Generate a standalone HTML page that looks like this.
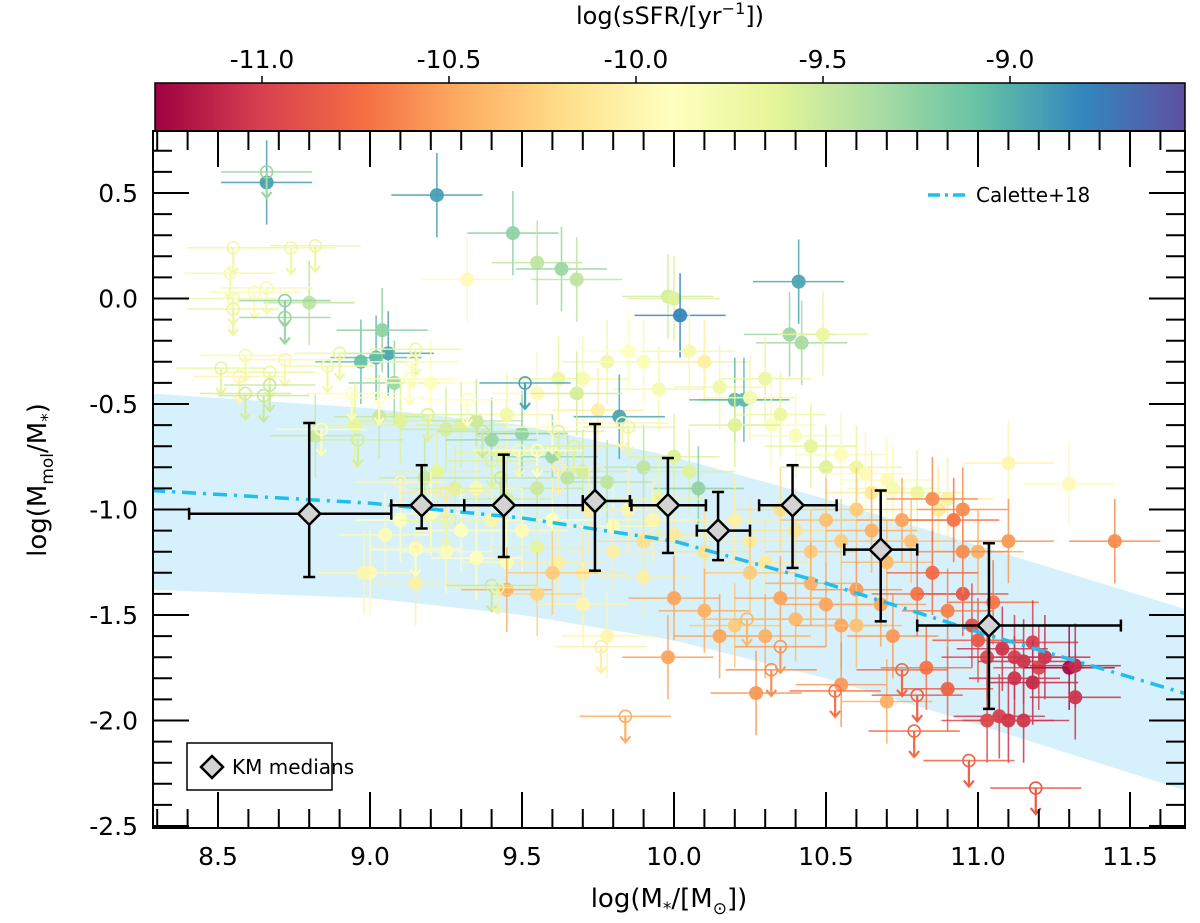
<!DOCTYPE html>
<html><head><meta charset="utf-8"><style>
html,body{margin:0;padding:0;background:#fff;}
svg{display:block;font-family:"DejaVu Sans","Liberation Sans",sans-serif;}
</style></head><body>
<svg id="chart" width="1200" height="923" viewBox="0 0 1200 923">
<defs>
<linearGradient id="cmap" x1="0" x2="1" y1="0" y2="0">
<stop offset="0" stop-color="#9e0142"/><stop offset="0.1" stop-color="#d53e4f"/><stop offset="0.2" stop-color="#f46d43"/><stop offset="0.3" stop-color="#fdae61"/><stop offset="0.4" stop-color="#fee08b"/><stop offset="0.5" stop-color="#ffffbf"/><stop offset="0.6" stop-color="#e6f598"/><stop offset="0.7" stop-color="#abdda4"/><stop offset="0.8" stop-color="#66c2a5"/><stop offset="0.9" stop-color="#3288bd"/><stop offset="1" stop-color="#5e4fa2"/>
</linearGradient>
<clipPath id="clip"><rect x="153" y="131" width="1032" height="697"/></clipPath>
</defs>
<g id="cbar"></g>
<g id="plot" clip-path="url(#clip)"></g>
<g id="axes"></g>
<text x="670" y="24" font-size="24" text-anchor="middle">log(sSFR/[yr<tspan dy="-10" font-size="16">−1</tspan><tspan dy="10">])</tspan></text>
<text x="669" y="907" font-size="26" text-anchor="middle">log(M<tspan dy="7" font-size="17">*</tspan><tspan dy="-7">/[M</tspan><tspan dy="7" font-size="17">⊙</tspan><tspan dy="-7">])</tspan></text>
<text transform="translate(46,480) rotate(-90)" font-size="26" text-anchor="middle">log(M<tspan dy="7" font-size="17">mol</tspan><tspan dy="-7">/M</tspan><tspan dy="7" font-size="17">*</tspan><tspan dy="-7">)</tspan></text>
<g>
<line x1="928" y1="195" x2="966" y2="195" stroke="#1ebfef" stroke-width="3.5" stroke-dasharray="12,5,3,5"/>
<text x="976" y="202" font-size="20">Calette+18</text>
</g>
<g>
<rect x="187" y="743" width="145" height="47" fill="#fff" stroke="#000" stroke-width="1.5"/>
<path d="M212,756 L223,767 L212,778 L201,767 Z" fill="#d3d3d3" stroke="#000" stroke-width="2.5"/>
<text x="232" y="774" font-size="20">KM medians</text>
</g>
</svg>
<script>
// ---- data ----
const xTicks = [8.5, 9.0, 9.5, 10.0, 10.5, 11.0, 11.5];
const yTicks = [0.5, 0.0, -0.5, -1.0, -1.5, -2.0, -2.5];
const cTicks = [-11.0, -10.5, -10.0, -9.5, -9.0];
const bandX = [8.28, 9.0, 9.5, 10.0, 10.5, 11.0, 11.7];
const bandUpper = [-0.45, -0.52, -0.60, -0.75, -0.95, -1.17, -1.48];
const bandLower = [-1.38, -1.42, -1.50, -1.62, -1.80, -2.02, -2.34];
const caletteX = [8.28, 9.0, 9.5, 10.0, 10.5, 11.0, 11.7];
const caletteY = [-0.91, -0.97, -1.04, -1.15, -1.35, -1.58, -1.88];
// upper limits: [logM, logRatio, sSFR]
const limits = [
[8.66,0.60,-9.3],[8.55,0.24,-9.75],[8.74,0.24,-9.75],[8.82,0.25,-9.7],[8.54,0.12,-9.8],[8.55,0.00,-9.75],
[8.66,0.05,-9.8],[8.62,0.03,-9.95],[8.55,-0.05,-9.7],[8.59,-0.27,-9.8],[8.72,-0.01,-9.25],[8.72,-0.09,-9.3],
[8.72,-0.29,-10.0],[8.51,-0.33,-9.65],[8.57,-0.37,-10.0],[8.67,-0.35,-9.7],[8.67,-0.41,-9.5],[8.59,-0.45,-9.55],
[8.65,-0.46,-9.5],[8.86,-0.32,-9.75],[8.90,-0.26,-9.7],[8.94,-0.45,-9.85],[8.84,-0.62,-9.9],[8.96,-0.67,-9.55],
[9.15,-0.24,-9.7],[9.14,-0.30,-9.85],[9.13,-0.38,-9.85],[9.03,-0.47,-9.9],[9.19,-0.55,-9.6],[9.32,-0.48,-9.9],
[9.43,-0.73,-9.65],[9.40,-0.77,-9.6],[9.60,-0.61,-9.9],[9.62,-0.63,-9.6],[9.67,-0.70,-9.6],[9.83,-0.59,-10.0],
[9.85,-0.61,-9.7],[9.10,-0.87,-10.0],[9.37,-0.63,-9.5],[9.49,-0.72,-9.8],[9.25,-0.92,-10.1],[9.40,-1.36,-9.5],
[9.42,-1.37,-9.7],[9.15,-1.19,-9.9],[9.43,-0.85,-9.5],[9.55,-0.72,-9.9],[9.62,-0.80,-10.05],[9.25,-1.05,-9.7],
[9.76,-1.65,-10.05],[9.84,-1.98,-10.45],[9.51,-0.40,-8.95],[10.24,-1.52,-10.4],[10.32,-1.76,-10.6],[10.35,-1.65,-10.55],
[10.53,-1.86,-10.7],[10.75,-1.76,-10.75],[10.80,-1.88,-10.8],[10.79,-2.05,-10.75],[10.97,-2.19,-10.8],[11.19,-2.32,-10.85]
];
// detections: [logM, logRatio, sSFR]
const detections = [
[8.66,0.55,-8.92],[9.22,0.49,-8.92],[9.47,0.31,-9.25],[9.55,0.17,-9.45],[9.63,0.14,-9.3],[9.68,0.09,-9.45],
[9.32,0.09,-9.95],[9.98,0.01,-9.55],[10.0,0.0,-9.6],[10.02,-0.08,-8.8],[10.41,0.08,-8.95],[10.38,-0.17,-9.3],
[10.42,-0.21,-9.35],[10.49,-0.17,-9.7],[8.80,-0.02,-9.45],[8.97,-0.30,-9.1],[9.02,-0.28,-9.05],[9.06,-0.26,-8.95],
[9.04,-0.15,-9.25],[9.08,-0.40,-9.3],[9.03,-0.56,-9.5],[9.10,-0.58,-9.6],
[9.20,-0.40,-9.9],[9.30,-0.60,-9.6],[9.35,-0.58,-9.5],[9.45,-0.55,-9.75],[9.50,-0.64,-9.25],[9.55,-0.45,-9.95],
[9.62,-0.38,-9.7],[9.70,-0.38,-9.8],[9.78,-0.30,-9.75],[9.85,-0.25,-9.9],[9.90,-0.30,-9.85],[9.95,-0.43,-9.8],
[9.75,-0.53,-10.05],[9.82,-0.56,-8.95],[9.68,-0.45,-9.55],[10.05,-0.25,-9.8],[10.10,-0.30,-10.05],[10.15,-0.42,-9.75],
[10.20,-0.48,-9.05],[10.23,-0.48,-9.05],[10.25,-0.47,-9.8],[10.30,-0.38,-9.7],[10.32,-0.60,-9.85],[10.35,-0.55,-9.7],
[10.20,-0.60,-9.6],[10.40,-0.65,-9.85],[10.45,-0.70,-9.65],[10.50,-0.80,-9.6],[10.55,-0.74,-9.85],[10.60,-0.80,-9.7],
[10.63,-0.83,-9.95],[10.70,-0.86,-9.95],[10.72,-0.90,-9.8],[10.80,-0.92,-9.7],[10.65,-0.92,-10.1],[10.87,-1.00,-10.1],
[10.90,-0.95,-10.05],[11.10,-0.78,-10.0],[11.30,-0.88,-9.95],[9.60,-0.75,-9.3],[9.65,-0.85,-9.45],[9.70,-0.82,-9.55],
[9.78,-0.87,-9.45],[9.55,-0.90,-9.5],[9.45,-0.95,-9.55],[9.35,-0.90,-9.8],[9.28,-0.90,-9.6],[9.22,-0.82,-9.65],
[9.18,-0.85,-9.5],[9.90,-0.80,-9.45],[10.00,-0.75,-9.6],[10.05,-0.82,-9.6],[10.08,-0.90,-9.25],[9.95,-0.95,-9.7],
[9.93,-1.05,-10.0],[9.85,-1.00,-10.0],[9.80,-1.08,-9.85],[9.72,-1.00,-10.05],[9.60,-1.05,-9.9],[9.50,-1.10,-9.95],
[9.40,-1.05,-10.0],[9.30,-1.10,-9.9],[9.20,-1.02,-9.9],[9.10,-1.05,-9.9],[9.05,-1.12,-9.95],[9.15,-1.18,-10.0],
[9.25,-1.20,-9.95],[9.35,-1.23,-9.9],[9.45,-1.25,-9.85],[9.55,-1.18,-9.65],[9.62,-1.25,-10.05],[9.70,-1.30,-10.1],
[9.80,-1.20,-10.05],[9.90,-1.15,-10.2],[10.00,-1.12,-10.1],[10.10,-1.20,-10.15],[10.20,-1.05,-10.05],[10.25,-1.15,-10.1],
[10.30,-1.25,-10.1],[10.35,-1.00,-10.2],[10.40,-1.10,-10.15],[10.45,-1.20,-10.3],[10.50,-1.05,-10.35],[10.55,-1.15,-10.3],
[10.60,-1.00,-10.3],[10.65,-1.10,-10.45],[10.70,-1.25,-10.4],[10.75,-1.05,-10.5],[10.78,-1.15,-10.35],[10.85,-0.95,-10.6],
[10.95,-1.00,-10.6],[11.00,-1.20,-10.45],[11.10,-1.15,-10.55],[11.45,-1.15,-10.6],[9.00,-1.30,-9.95],[9.15,-1.35,-10.05],
[9.45,-1.38,-10.45],[9.55,-1.40,-10.25],[9.70,-1.45,-10.0],[9.78,-1.60,-10.0],[9.60,-1.30,-10.3],[9.90,-1.32,-10.05],
[10.00,-1.42,-10.5],[10.10,-1.48,-10.45],[10.20,-1.55,-10.3],[10.15,-1.60,-10.5],[10.25,-1.30,-10.3],[10.30,-1.60,-10.45],
[10.35,-1.42,-10.5],[10.40,-1.52,-10.4],[10.45,-1.35,-10.45],[10.50,-1.45,-10.5],[10.55,-1.55,-10.5],[10.60,-1.38,-10.55],
[10.60,-1.55,-10.35],[10.68,-1.45,-10.5],[10.72,-1.60,-10.55],[10.80,-1.40,-10.7],[10.85,-1.30,-10.75],[9.98,-1.70,-10.5],
[10.27,-1.87,-10.55],[10.55,-1.83,-10.55],[10.70,-1.91,-10.45],[10.83,-1.75,-10.7],[10.90,-1.85,-10.8],[10.95,-1.40,-10.85],
[10.98,-1.55,-10.9],[11.00,-1.62,-10.85],[11.03,-1.70,-10.95],[11.05,-1.44,-10.7],[11.08,-1.66,-11.05],[11.12,-1.70,-11.0],
[11.15,-1.72,-11.05],[11.18,-1.63,-11.0],[11.20,-1.75,-10.95],[11.22,-1.70,-11.05],[11.12,-1.80,-11.05],[11.18,-1.82,-11.1],
[11.30,-1.75,-11.25],[11.32,-1.74,-11.1],[11.32,-1.89,-11.05],[11.07,-1.98,-11.0],[11.10,-2.00,-11.05],[11.15,-2.00,-11.05],
[11.03,-2.00,-10.95],[10.90,-1.48,-10.65],[10.95,-1.20,-10.6],[10.92,-1.05,-10.7],[8.82,-0.65,-9.5],[8.95,-0.60,-9.65],
[8.98,-1.30,-10.0],[9.25,-0.62,-9.55],[9.40,-0.67,-9.3]
];
// KM medians
const medX = [8.80, 9.17, 9.44, 9.74, 9.98, 10.145, 10.39, 10.68, 11.036];
const medY = [-1.02, -0.98, -0.98, -0.96, -0.98, -1.10, -0.98, -1.19, -1.55];
const medXlo = [8.405, 9.07, 9.31, 9.70, 9.86, 10.075, 10.28, 10.56, 10.80];
const medXhi = [9.07, 9.31, 9.70, 9.855, 10.105, 10.25, 10.535, 10.80, 11.47];
const medYhi = [-0.59, -0.79, -0.74, -0.595, -0.756, -0.917, -0.79, -0.91, -1.16];
const medYlo = [-1.32, -1.09, -1.225, -1.29, -1.206, -1.24, -1.277, -1.53, -1.945];

// ---- scales ----
const X = v => 218 + (v - 8.5) * 304;
const Y = v => 193 - (v - 0.5) * 211;
const C = v => 262 + (v + 11.0) * 374;
const NS = 'http://www.w3.org/2000/svg';
const stops = ['#9e0142','#d53e4f','#f46d43','#fdae61','#fee08b','#ffffbf','#e6f598','#abdda4','#66c2a5','#3288bd','#5e4fa2'];
function hex(h){return [1,3,5].map(i=>parseInt(h.substr(i,2),16));}
function cmap(s){
  let t = (C(s) - 155) / (1185 - 155);
  t = Math.max(0, Math.min(1, t)) * 10;
  const i = Math.min(9, Math.floor(t)), f = t - i;
  const a = hex(stops[i]), b = hex(stops[i+1]);
  return 'rgb(' + a.map((v,k)=>Math.round(v + (b[k]-v)*f)).join(',') + ')';
}
function el(tag, attrs, parent){
  const e = document.createElementNS(NS, tag);
  for (const k in attrs) e.setAttribute(k, attrs[k]);
  parent.appendChild(e);
  return e;
}
const plot = document.getElementById('plot');
const axes = document.getElementById('axes');
const cbar = document.getElementById('cbar');

let d = '';
bandX.forEach((x,i)=>{ d += (i? 'L':'M') + X(x) + ',' + Y(bandUpper[i]); });
for (let i = bandX.length-1; i >= 0; i--) d += 'L' + X(bandX[i]) + ',' + Y(bandLower[i]);
const band = el('path', {d: d + 'Z', fill: '#d6f1fb'}, plot);



detections.forEach(p=>{
  const g = el('g', {}, plot);
  
  
  const c = cmap(p[2]);
  el('line', {x1:X(p[0]-0.15), x2:X(p[0]+0.15), y1:Y(p[1]), y2:Y(p[1]), stroke:c, 'stroke-width':1.6, opacity:0.85}, g);
  el('line', {x1:X(p[0]), x2:X(p[0]), y1:Y(p[1]+0.2), y2:Y(p[1]-0.2), stroke:c, 'stroke-width':1.6, opacity:0.85}, g);
  el('circle', {cx:X(p[0]), cy:Y(p[1]), r:7, fill:c, opacity:0.95}, g);
});
limits.forEach(p=>{
  const g = el('g', {}, plot);
  
  
  const c = cmap(p[2]);
  const x = X(p[0]), y = Y(p[1]);
  el('line', {x1:X(p[0]-0.15), x2:X(p[0]+0.15), y1:y, y2:y, stroke:c, 'stroke-width':1.6, opacity:0.85}, g);
  el('circle', {cx:x, cy:y, r:6, fill:'none', stroke:c, 'stroke-width':1.6}, g);
  el('line', {x1:x, x2:x, y1:y, y2:y+26, stroke:c, 'stroke-width':2.2}, g);
  el('path', {d:'M'+(x-5)+','+(y+20)+'L'+x+','+(y+26)+'L'+(x+5)+','+(y+20), fill:'none', stroke:c, 'stroke-width':2.2}, g);
});

let ld = '';
caletteX.forEach((x,i)=>{ ld += (i? 'L':'M') + X(x) + ',' + Y(caletteY[i]); });
const cl = el('path', {d:ld, fill:'none', stroke:'#1ebfef', 'stroke-width':3.5, 'stroke-dasharray':'14,7,3,7'}, plot);



medX.forEach((x,i)=>{
  const g = el('g', {}, plot);
  
  
  const cx = X(x), cy = Y(medY[i]);
  const st = {stroke:'#000', 'stroke-width':2.5};
  el('line', Object.assign({x1:X(medXlo[i]), x2:X(medXhi[i]), y1:cy, y2:cy}, st), g);
  el('line', Object.assign({x1:cx, x2:cx, y1:Y(medYhi[i]), y2:Y(medYlo[i])}, st), g);
  el('line', Object.assign({x1:X(medXlo[i]), x2:X(medXlo[i]), y1:cy-6, y2:cy+6}, st), g);
  el('line', Object.assign({x1:X(medXhi[i]), x2:X(medXhi[i]), y1:cy-6, y2:cy+6}, st), g);
  el('line', Object.assign({x1:cx-6, x2:cx+6, y1:Y(medYhi[i]), y2:Y(medYhi[i])}, st), g);
  el('line', Object.assign({x1:cx-6, x2:cx+6, y1:Y(medYlo[i]), y2:Y(medYlo[i])}, st), g);
  el('path', {d:'M'+cx+','+(cy-11)+'L'+(cx+11)+','+cy+'L'+cx+','+(cy+11)+'L'+(cx-11)+','+cy+'Z', fill:'#d3d3d3', stroke:'#000', 'stroke-width':2.5}, g);
});

const frame = el('rect', {x:153, y:131, width:1032, height:697, fill:'none', stroke:'#000', 'stroke-width':2}, axes);


for (let k = 83; k <= 117; k++) {
  const v = k / 10, x = X(v);
  if (x < 154 || x > 1184) continue;
  const major = k % 5 === 0;
  const L = major ? 36 : 19;
  el('line', {x1:x, x2:x, y1:828, y2:828-L, stroke:'#000', 'stroke-width':2}, axes);
  el('line', {x1:x, x2:x, y1:131, y2:131+L, stroke:'#000', 'stroke-width':2}, axes);
}
for (let k = -25; k <= 7; k++) {
  const v = k / 10, y = Y(v);
  if (y < 132 || y > 827) continue;
  const major = k % 5 === 0;
  const L = major ? 36 : 19;
  el('line', {x1:153, x2:153+L, y1:y, y2:y, stroke:'#000', 'stroke-width':2}, axes);
  el('line', {x1:1185, x2:1185-L, y1:y, y2:y, stroke:'#000', 'stroke-width':2}, axes);
}
xTicks.forEach(v=>{
  const t = el('text', {x:X(v), y:865, 'font-size':25, 'text-anchor':'middle'}, axes);
  
  
  t.textContent = v.toFixed(1);
});
yTicks.forEach(v=>{
  const t = el('text', {x:138, y:Y(v)+9, 'font-size':25, 'text-anchor':'end'}, axes);
  
  
  t.textContent = v.toFixed(1);
});

const cr = el('rect', {x:155, y:83, width:1030, height:48, fill:'url(#cmap)', stroke:'#000', 'stroke-width':1.5}, cbar);


cTicks.forEach(v=>{
  el('line', {x1:C(v), x2:C(v), y1:83, y2:76, stroke:'#000', 'stroke-width':1.5}, cbar);
  const t = el('text', {x:C(v), y:68, 'font-size':25, 'text-anchor':'middle'}, cbar);
  
  
  t.textContent = v.toFixed(1);
});
</script>
</body></html>
